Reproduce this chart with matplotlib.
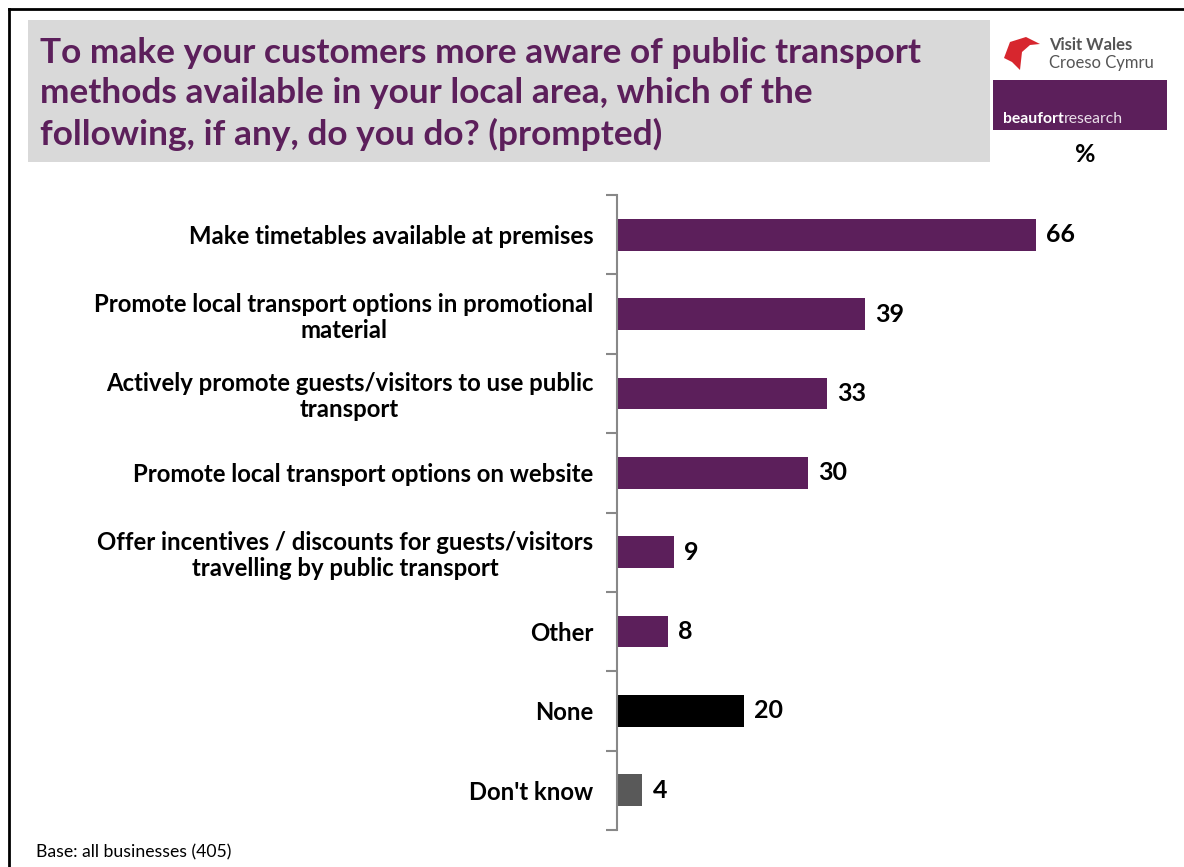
import matplotlib.pyplot as plt
from matplotlib.patches import Rectangle, Polygon
import numpy as np

plt.rcParams['font.family'] = ['Lato', 'DejaVu Sans']

categories = [
    "Make timetables available at premises",
    "Promote local transport options in promotional\nmaterial",
    "Actively promote guests/visitors to use public\ntransport",
    "Promote local transport options on website",
    "Offer incentives / discounts for guests/visitors\ntravelling by public transport",
    "Other",
    "None",
    "Don't know",
]
values = [66, 39, 33, 30, 9, 8, 20, 4]
bar_colors = ["#5c1f5b"] * 6 + ["#000000", "#595959"]

title = ("To make your customers more aware of public transport\n"
         "methods available in your local area, which of the\n"
         "following, if any, do you do? (prompted)")

W, H = 1184, 867
fig = plt.figure(figsize=(W / 100, H / 100), dpi=100)
tf = fig.transFigure

# page frame (left and top edges only)
fig.add_artist(plt.Line2D([9 / W, 9 / W], [0, 1 - 9 / H], transform=tf, color="black", lw=2))
fig.add_artist(plt.Line2D([9 / W, 1], [1 - 9 / H, 1 - 9 / H], transform=tf, color="black", lw=2))

# title block
fig.add_artist(Rectangle((28 / W, 1 - 162 / H), (990 - 28) / W, (162 - 20) / H,
                         transform=tf, facecolor="#d9d9d9", edgecolor="none"))
fig.text(40 / W, 1 - 94 / H, title, color="#5c1f5b", fontsize=25.4, fontweight="bold",
         va="center", ha="left", linespacing=1.33)

# logos
fig.add_artist(Polygon([(1004 / W, 1 - 58 / H), (1010 / W, 1 - 42 / H), (1026 / W, 1 - 37 / H),
                        (1040 / W, 1 - 44 / H), (1030 / W, 1 - 45 / H), (1022 / W, 1 - 52 / H),
                        (1020 / W, 1 - 70 / H), (1012 / W, 1 - 62 / H)],
                       closed=True, transform=tf, facecolor="#d7262e", edgecolor="none"))
fig.text(1049 / W, 1 - 45 / H, "Visit Wales", fontsize=12, color="#555555", fontweight="bold",
         va="center", ha="left")
fig.text(1049 / W, 1 - 63 / H, "Croeso Cymru", fontsize=12, color="#555555",
         va="center", ha="left")
fig.add_artist(Rectangle((993 / W, 1 - 130 / H), (1167 - 993) / W, (130 - 80) / H,
                         transform=tf, facecolor="#5c1f5b", edgecolor="none"))
t1 = fig.text(1003 / W, 1 - 119 / H, "beaufort", fontsize=11.3, color="white", fontweight="bold",
              va="center", ha="left")
bb = t1.get_window_extent(renderer=fig.canvas.get_renderer())
fig.text(bb.x1 / W, 1 - 119 / H, "research", fontsize=11.3, color="#eadfea",
         va="center", ha="left")
fig.text(1085 / W, 1 - 155 / H, "%", fontsize=18, fontweight="bold", va="center", ha="center")

# bar chart
ax = fig.add_axes([617 / W, 1 - 830 / H, 540 / W, (830 - 195) / H])
y = np.arange(len(categories))
ax.barh(y, values, height=0.4, color=bar_colors)
for yi, v in zip(y, values):
    ax.text(v + 1.6, yi, str(v), va="center", ha="left", fontsize=18, fontweight="bold")

ax.set_xlim(0, 85)
ax.set_ylim(len(categories) - 0.5, -0.5)
ax.set_yticks(y)
ax.set_yticklabels(categories, fontsize=17.2, fontweight="bold")
for lab in ax.get_yticklabels():
    lab.set_multialignment("center")
    lab.set_linespacing(1.15)
ax.tick_params(axis="y", which="major", length=0, pad=17)
ax.set_yticks(np.arange(len(categories) + 1) - 0.5, minor=True)
ax.tick_params(axis="y", which="minor", length=8, color="#888888", width=1.5)
ax.set_xticks([])
for side in ["top", "right", "bottom"]:
    ax.spines[side].set_visible(False)
ax.spines["left"].set_color("#888888")
ax.spines["left"].set_linewidth(1.5)

fig.text(36 / W, 1 - 852 / H, "Base: all businesses (405)", fontsize=12.7, va="center", ha="left")

fig.savefig("out.png", dpi=100)
